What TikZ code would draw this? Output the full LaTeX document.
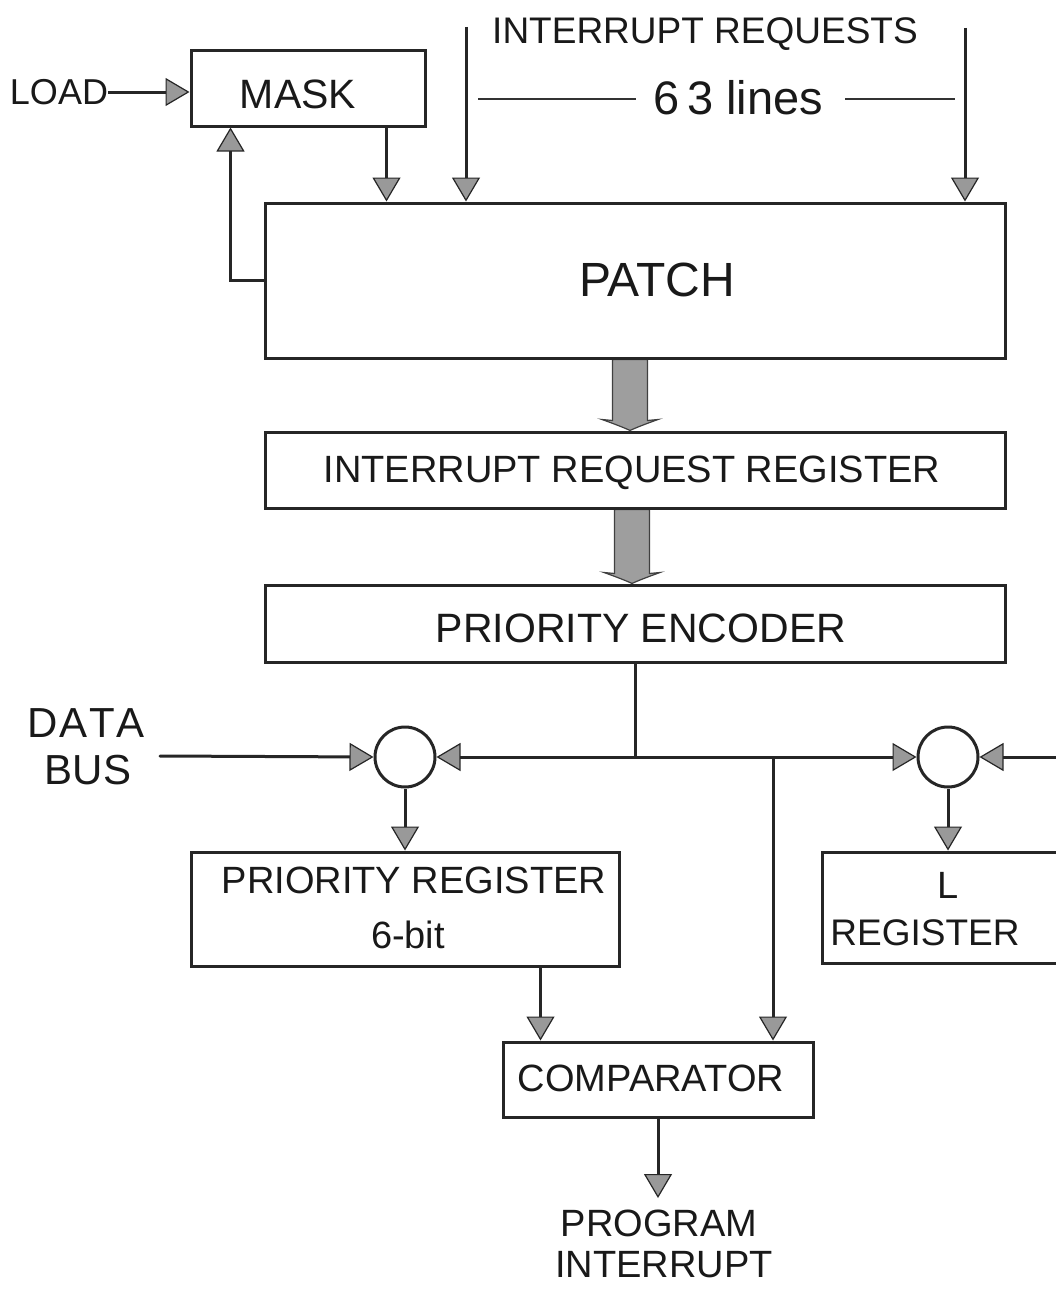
\documentclass[tikz,border=0pt]{standalone}
\usepackage{fontspec}
\setmainfont{Liberation Sans}
\usetikzlibrary{arrows.meta,calc}
\pgfdeclarelayer{bg}
\pgfsetlayers{bg,main}
\newcommand\fatarrow[2]{%
  \path[fatarr] let \p1=(#1), \p2=(#2) in
   ({\x1-17.5pt},\y1) -- ({\x1-17.5pt},{\y2+10pt}) -- ({\x1-28pt},{\y2+11pt})
   .. controls ({\x1-14pt},{\y2+6pt}) and ({\x1-4pt},{\y2+2pt}) .. (\x1,\y2)
   .. controls ({\x1+4pt},{\y2+2pt}) and ({\x1+14pt},{\y2+6pt}) .. ({\x1+28pt},{\y2+11pt})
   -- ({\x1+17.5pt},{\y2+10pt}) -- ({\x1+17.5pt},\y1) -- cycle;}
\begin{document}
\begin{tikzpicture}[x=1pt,y=-1pt,
  tipA/.tip={Triangle[width=28pt,length=24pt,fill=black!40,line width=1.2pt]},
  box/.style={draw=black!85,line width=3pt,inner sep=0pt,rectangle},
  ring/.style={draw=black!85,line width=3pt,inner sep=0pt,circle,minimum size=60pt},
  txt/.style={inner sep=0pt,text=black!90},
  conn/.style={draw=black!85,line width=3pt},
  arr/.style={conn,-tipA},
  darr/.style={conn,tipA-tipA},
  thinline/.style={draw=black!80,line width=1.8pt},
  fatarr/.style={fill=black!38,draw=black!75,line width=1.2pt},
  fs/.style={font=\fontsize{#1}{#1}\selectfont}]
\useasboundingbox (0,0) rectangle (1056,1290);
\clip (0,0) rectangle (1056,1290);
\begin{pgfonlayer}{bg}
\fill[white] (0,0) rectangle (1056,1290);
\end{pgfonlayer}

% boxes
\node[box,minimum width=234pt,minimum height=75pt] (mask) at (308,88.5) {};
\node[box,minimum width=740pt,minimum height=155pt] (patch) at (635,280.5) {};
\node[box,minimum width=740pt,minimum height=76pt] (irr) at (635,470) {};
\node[box,minimum width=740pt,minimum height=77pt] (enc) at (635,623.5) {};
\node[box,minimum width=428pt,minimum height=114pt] (preg) at (405,909) {};
\node[box,minimum width=268pt,minimum height=111pt] (lreg) at (956,907.5) {};
\node[box,minimum width=310pt,minimum height=75pt] (comp) at (658,1079.5) {};
\node[ring] (c1) at (405,757) {};
\node[ring] (c2) at (948,757) {};

% texts
\node[txt,fs=36] (loadtxt) at (59,92) {LOAD};
\node[txt,fs=41] (masktxt) at (298,94) {MASK};
\node[txt,fs=37] (irqtxt) at (705,34) {INTERRUPT REQUESTS};
\node[txt,fs=47] (linestxt) at (738,98) {6\,3 lines};
\node[txt,fs=48] (patchtxt) at (657,280) {PATCH};
\node[txt,fs=38] (irrtxt) at (632,473) {INTERRUPT REQUEST REGISTER};
\node[txt,fs=41] (enctxt) at (641,628) {PRIORITY ENCODER};
\node[txt,fs=42] (datatxt) at (86,723) {D\kern1.5pt A\kern1.5pt T\kern1.5pt A};
\node[txt,fs=42] (bustxt) at (88,770) {BUS};
\node[txt,fs=38] (pregtxt) at (414,880) {PRIORITY REGISTER};
\node[txt,fs=38] (bittxt) at (408,935) {6-bit};
\node[txt,fs=38] (ltxt) at (948,885) {L};
\node[txt,fs=37] (lregtxt) at (925,933) {REGISTER};
\node[txt,fs=38] (comptxt) at (651,1078) {COMPARATOR};
\node[txt,fs=38] (progtxt) at (659,1223) {PROGRAM};
\node[txt,fs=38] (inttxt) at (664,1265) {INTERRUPT};

% coordinates
\coordinate (ir1) at (466,27);
\coordinate (ir2) at (965,28);
\coordinate (dbstart) at (160,756);
\coordinate (dbend) at (1056,757);
\coordinate (j1) at (enc.south |- c1.east);
\coordinate (j2) at (773,757);
\coordinate (outtip) at (658,1198);
\coordinate (m1) at ($(mask.south east)+(-40,0)$);
\coordinate (fb) at ($(mask.south west)+(41,0)$);
\coordinate (p1) at ($(preg.south west)+(351,0)$);

% 63 lines rulers
\draw[thinline] (478,99) -- (636,99);
\draw[thinline] (845,99) -- (955,99);

% connectors
\draw[arr] (loadtxt.east) -- (loadtxt.east -| mask.west);
\draw[arr] (m1) -- (m1 |- patch.north);
\draw[arr] (patch.west) -| (fb);
\draw[arr] (ir1) -- (ir1 |- patch.north);
\draw[arr] (ir2) -- (ir2 |- patch.north);
\draw[conn] (enc.south) -- (j1);
\draw[arr,line cap=round] (dbstart) -- (c1.west);
\draw[darr] (c1.east) -- (c2.west);
\draw[arr] (dbend) -- (c2.east);
\draw[arr] (c1.south) -- (c1.south |- preg.north);
\draw[arr] (c2.south) -- (c2.south |- lreg.north);
\draw[arr] (p1) -- (p1 |- comp.north);
\draw[arr] (j2) -- (j2 |- comp.north);
\draw[arr] (comp.south) -- (outtip);

% fat arrows
\begin{pgfonlayer}{bg}
\fatarrow{$(patch.south)+(-5,0)$}{$(irr.north)+(-5,0)$}
\fatarrow{$(irr.south)+(-3,0)$}{$(enc.north)+(-3,0)$}
\end{pgfonlayer}
\end{tikzpicture}
\end{document}
